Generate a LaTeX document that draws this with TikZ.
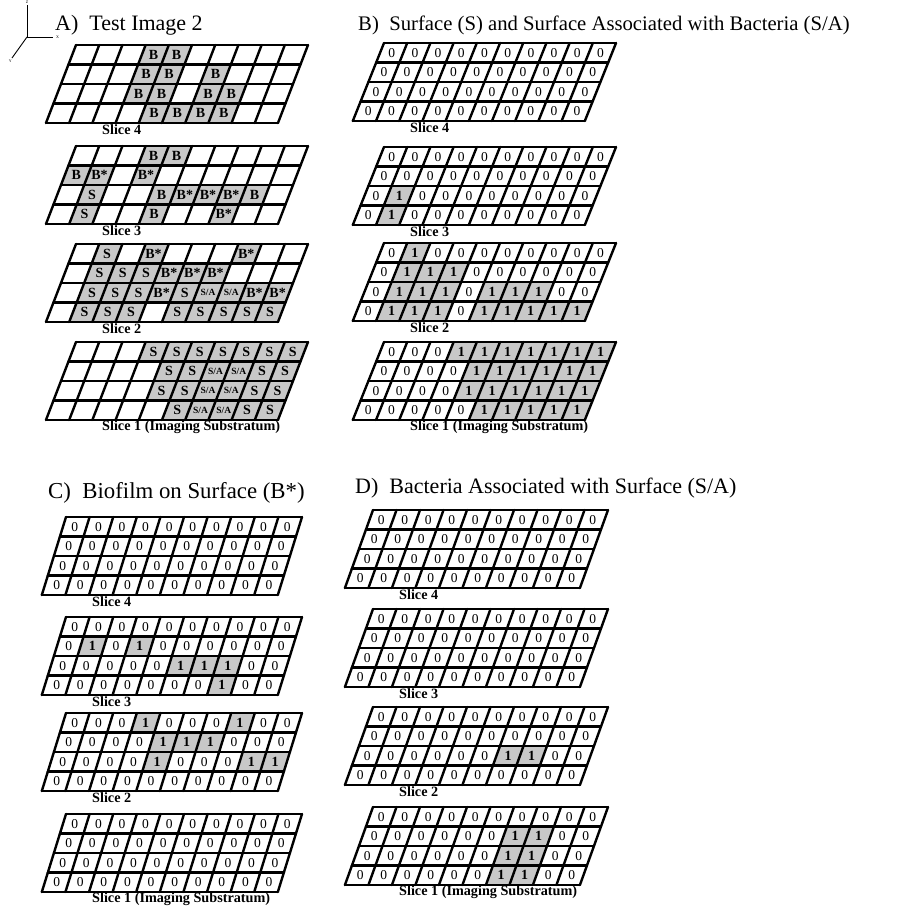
\documentclass[tikz,border=0pt]{standalone}
\usepackage{fontspec}
\setmainfont{Liberation Serif}
\usetikzlibrary{positioning}
\definecolor{cellc}{HTML}{C8C8C8}
\tikzset{
  paneltitle/.style={font=\fontsize{22}{24}\selectfont, inner sep=0pt},
  slicelab/.style={font=\fontsize{14.2}{15}\selectfont\bfseries, inner sep=0pt},
  zero/.style={font=\fontsize{13.5}{14}\selectfont, inner sep=0pt},
  hit/.style={font=\fontsize{14}{15}\selectfont\bfseries, inner sep=0pt},
  hitsmall/.style={font=\fontsize{9.5}{10}\selectfont\bfseries, inner sep=0pt},
  cellfill/.style={fill=cellc},
  gridline/.style={line width=2.4pt, line cap=round, line join=round},
  axisline/.style={line width=0.9pt},
  axislab/.style={font=\fontsize{4}{4}\selectfont, inner sep=0pt},
}
\def\zerotxt{0}\def\blanktxt{-}\def\satxt{S/A}
\def\cw{23.3}\def\rh{19.5}\def\sl{0.385}
% name, x, y, label, four rows of ten cells
\newcommand{\drawslice}[8]{%
  \node[slicelab, anchor=west] (#1lab) at ({#2+26},{#3+85}) {#4};
  \begin{scope}[shift={(#2,#3)}, xslant=\sl]
    \foreach \row [count=\r] in {{#5},{#6},{#7},{#8}} {
      \foreach \v [count=\c] in \row {
        \edef\cellv{\v}
        \ifx\cellv\zerotxt
          \node[zero] (#1-\r-\c) at ({(\c-0.5)*\cw},{(\r-0.5)*\rh}) {0};
        \else\ifx\cellv\blanktxt\else
          \fill[cellfill] ({(\c-1)*\cw},{(\r-1)*\rh}) -- ({\c*\cw},{(\r-1)*\rh})
            -- ({\c*\cw},{\r*\rh}) -- ({(\c-1)*\cw},{\r*\rh}) -- cycle;
          \ifx\cellv\satxt
            \node[hitsmall] (#1-\r-\c) at ({(\c-0.5)*\cw},{(\r-0.5)*\rh}) {\v};
          \else
            \node[hit] (#1-\r-\c) at ({(\c-0.5)*\cw},{(\r-0.5)*\rh}) {\v};
          \fi
        \fi\fi
      }
    }
    \foreach \r in {0,...,4} \draw[gridline] (0,{\r*\rh}) -- ({10*\cw},{\r*\rh});
    \foreach \c in {0,...,10} \draw[gridline] ({\c*\cw},0) -- ({\c*\cw},{4*\rh});
  \end{scope}
}

\begin{document}
\begin{tikzpicture}[x=1pt, y=-1pt]
  \useasboundingbox[fill=white] (0,0) rectangle (910,910);

  % axes
  \coordinate (ax0) at (27,37);
  \coordinate (axz) at (27,5);
  \coordinate (axx) at (53,37);
  \coordinate (axy) at (12,58);
  \draw[axisline] (axz) -- (ax0) -- (axx);
  \draw[axisline] (ax0) -- (axy);
  \node[axislab, above=1pt of axz] (zlab) {Z};
  \node[axislab, right=3pt of axx] (xlab) {X};
  \node[axislab, below left=2pt and 0pt of axy] (ylab) {Y};

  % titles
  \node[paneltitle, anchor=base west] (titleA) at (55,30) {A)\ \ Test Image 2};
  \node[paneltitle, anchor=base west, font=\fontsize{20.7}{22}\selectfont] (titleB) at (358,30) {B)\ \ Surface (S) and Surface Associated with Bacteria (S/A)};
  \node[paneltitle, anchor=base west, font=\fontsize{22.8}{24}\selectfont] (titleC) at (48,498) {C)\ \ Biofilm on Surface (B*)};
  \node[paneltitle, anchor=base west] (titleD) at (355,493) {D)\ \ Bacteria Associated with Surface (S/A)};

  % A) test image
  \def\cw{23.2}\def\sl{0.385}
  \drawslice{A4}{76}{45}{Slice 4}
    {-,-,-,B,B,-,-,-,-,-}{-,-,-,B,B,-,B,-,-,-}{-,-,-,B,B,-,B,B,-,-}{-,-,-,-,B,B,B,B,-,-}
  \drawslice{A3}{76}{146}{Slice 3}
    {-,-,-,B,B,-,-,-,-,-}{B,B*,-,B*,-,-,-,-,-,-}{-,S,-,-,B,B*,B*,B*,B,-}{-,S,-,-,B,-,-,B*,-,-}
  \drawslice{A2}{76}{244}{Slice 2}
    {-,S,-,B*,-,-,-,B*,-,-}{-,S,S,S,B*,B*,B*,-,-,-}{-,S,S,S,B*,S,S/A,S/A,B*,B*}{-,S,S,S,-,S,S,S,S,S}
  \drawslice{A1}{76}{342}{Slice 1 (Imaging Substratum)}
    {-,-,-,S,S,S,S,S,S,S}{-,-,-,-,S,S,S/A,S/A,S,S}{-,-,-,-,S,S,S/A,S/A,S,S}{-,-,-,-,-,S,S/A,S/A,S,S}

  % B) surface
  \def\cw{23.2}\def\sl{0.4}
  \drawslice{B4}{384}{43}{Slice 4}
    {0,0,0,0,0,0,0,0,0,0}{0,0,0,0,0,0,0,0,0,0}{0,0,0,0,0,0,0,0,0,0}{0,0,0,0,0,0,0,0,0,0}
  \drawslice{B3}{384}{147}{Slice 3}
    {0,0,0,0,0,0,0,0,0,0}{0,0,0,0,0,0,0,0,0,0}{0,1,0,0,0,0,0,0,0,0}{0,1,0,0,0,0,0,0,0,0}
  \drawslice{B2}{384}{243}{Slice 2}
    {0,1,0,0,0,0,0,0,0,0}{0,1,1,1,0,0,0,0,0,0}{0,1,1,1,0,1,1,1,0,0}{0,1,1,1,0,1,1,1,1,1}
  \drawslice{B1}{384}{342}{Slice 1 (Imaging Substratum)}
    {0,0,0,1,1,1,1,1,1,1}{0,0,0,0,1,1,1,1,1,1}{0,0,0,0,1,1,1,1,1,1}{0,0,0,0,0,1,1,1,1,1}

  % C) biofilm
  \def\cw{23.6}\def\sl{0.31}
  \drawslice{C4}{66}{517}{Slice 4}
    {0,0,0,0,0,0,0,0,0,0}{0,0,0,0,0,0,0,0,0,0}{0,0,0,0,0,0,0,0,0,0}{0,0,0,0,0,0,0,0,0,0}
  \drawslice{C3}{66}{617}{Slice 3}
    {0,0,0,0,0,0,0,0,0,0}{0,1,0,1,0,0,0,0,0,0}{0,0,0,0,0,1,1,1,0,0}{0,0,0,0,0,0,0,1,0,0}
  \drawslice{C2}{66}{713}{Slice 2}
    {0,0,0,1,0,0,0,1,0,0}{0,0,0,0,1,1,1,0,0,0}{0,0,0,0,1,0,0,0,1,1}{0,0,0,0,0,0,0,0,0,0}
  \drawslice{C1}{66}{814}{Slice 1 (Imaging Substratum)}
    {0,0,0,0,0,0,0,0,0,0}{0,0,0,0,0,0,0,0,0,0}{0,0,0,0,0,0,0,0,0,0}{0,0,0,0,0,0,0,0,0,0}

  % D) bacteria on surface
  \def\cw{23.5}\def\sl{0.36}
  \drawslice{D4}{373}{510}{Slice 4}
    {0,0,0,0,0,0,0,0,0,0}{0,0,0,0,0,0,0,0,0,0}{0,0,0,0,0,0,0,0,0,0}{0,0,0,0,0,0,0,0,0,0}
  \drawslice{D3}{373}{609}{Slice 3}
    {0,0,0,0,0,0,0,0,0,0}{0,0,0,0,0,0,0,0,0,0}{0,0,0,0,0,0,0,0,0,0}{0,0,0,0,0,0,0,0,0,0}
  \drawslice{D2}{373}{707}{Slice 2}
    {0,0,0,0,0,0,0,0,0,0}{0,0,0,0,0,0,0,0,0,0}{0,0,0,0,0,0,1,1,0,0}{0,0,0,0,0,0,0,0,0,0}
  \drawslice{D1}{373}{807}{Slice 1 (Imaging Substratum)}
    {0,0,0,0,0,0,0,0,0,0}{0,0,0,0,0,0,1,1,0,0}{0,0,0,0,0,0,1,1,0,0}{0,0,0,0,0,0,1,1,0,0}
\end{tikzpicture}
\end{document}
